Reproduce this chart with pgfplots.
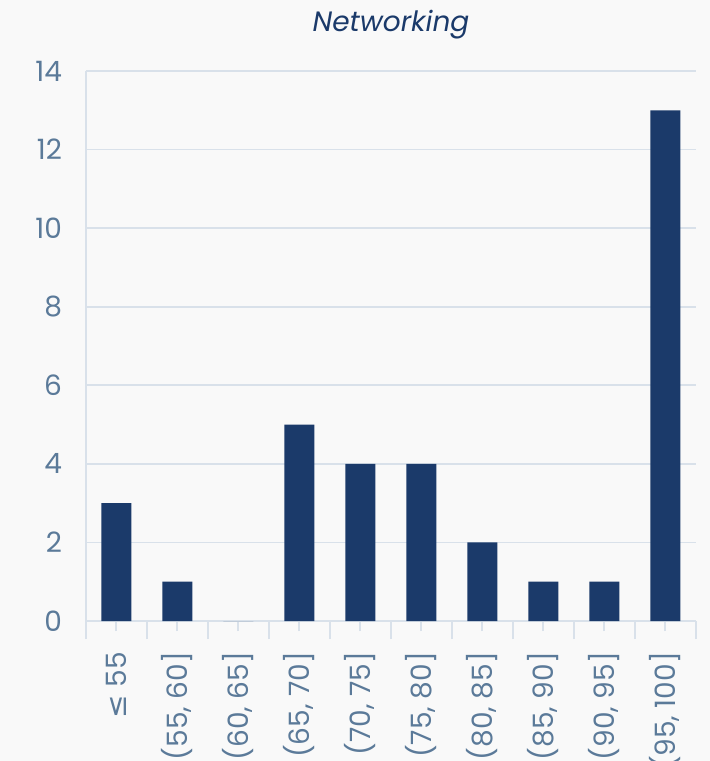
\documentclass[border=0pt]{standalone}
\usepackage{fontspec}
\setmainfont{Poppins}
\newfontfamily\dejavu{DejaVu Sans}
\usepackage{pgfplots}
\pgfplotsset{compat=1.18}

\definecolor{bgcol}{HTML}{F9F9F9}
\definecolor{barcol}{HTML}{1B3A6A}
\definecolor{gridcol}{HTML}{D9E1EA}
\definecolor{labcol}{HTML}{5B7A99}

\begin{document}
\begin{tikzpicture}
% background of the whole picture (1px = 0.5pt)
\fill[bgcol] (-43pt,-70pt) rectangle (312pt,310.5pt);
\begin{axis}[
    name=ax,
    at={(0,0)}, anchor=south west,
    scale only axis,
    width=305pt, height=275pt,
    xmin=-0.5, xmax=9.5,
    ymin=0, ymax=14,
    ytick={0,2,...,14},
    xtick={0,...,9},
    xticklabels={{\dejavu ≤} 55,{(55, 60]},{(60, 65]},{(65, 70]},{(70, 75]},{(75, 80]},{(80, 85]},{(85, 90]},{(90, 95]},{(95, 100]}},
    minor xtick={-0.5,0.5,...,9.5},
    x tick label style={rotate=90, anchor=east, font=\fontsize{14}{16}\selectfont, text=labcol},
    xticklabel shift=7pt,
    y tick label style={font=\fontsize{14}{16}\selectfont, text=labcol},
    yticklabel shift=6pt,
    /pgf/number format/assume math mode=true,
    ymajorgrids=true,
    grid style={gridcol, line width=0.8pt},
    axis x line*=bottom,
    axis y line*=left,
    x axis line style={gridcol, line width=1.2pt, -},
    y axis line style={gridcol, line width=0.8pt, -},
    tick align=center,
    major tick length=5pt,
    minor tick length=9pt,
    x tick style={gridcol, line width=1pt},
    minor x tick style={gridcol, line width=1pt},
    y tick style={draw=none},
    title={\itshape Networking},
    title style={font=\fontsize{14}{16}\selectfont, text=barcol, yshift=6.5pt},
    ybar, bar width=15pt,
]
\addplot[fill=barcol, draw=none] coordinates {
    (0,3) (1,1) (2,0) (3,5) (4,4) (5,4) (6,2) (7,1) (8,1) (9,13)
};
\end{axis}
\pgfresetboundingbox
\path (-43pt,-70pt) rectangle (312pt,310.5pt);
\end{tikzpicture}
\end{document}
